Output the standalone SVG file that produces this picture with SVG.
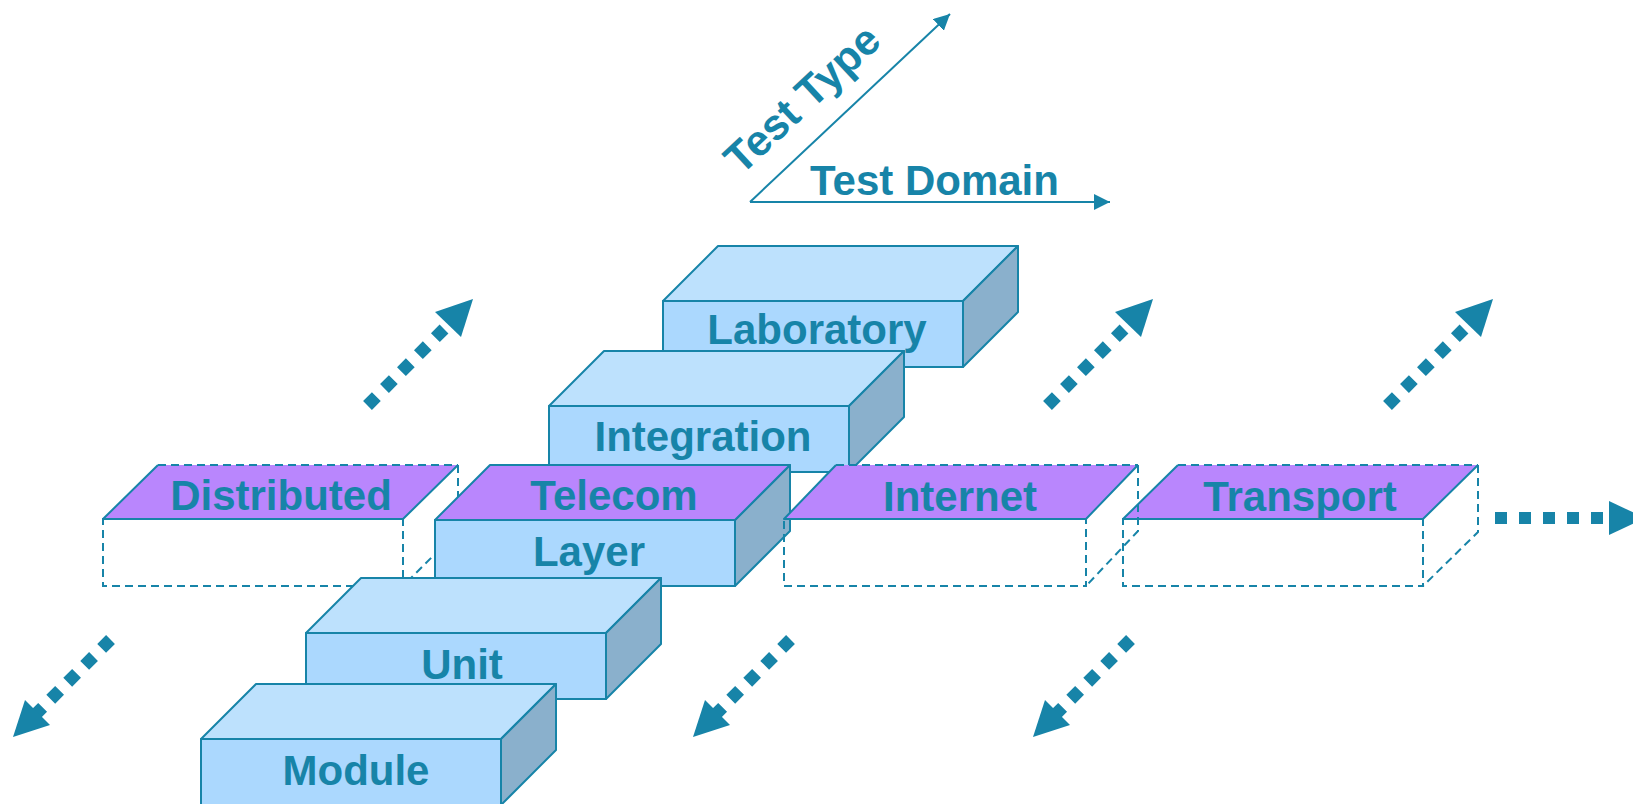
<svg xmlns="http://www.w3.org/2000/svg" width="1633" height="804" viewBox="0 0 1633 804">
<defs>
<style>
.lbl{font-family:"Liberation Sans",Arial,sans-serif;font-weight:bold;font-size:42px;fill:#1784A8;text-anchor:middle}
.front{fill:#ABD8FE;stroke:#1784A8;stroke-width:2;stroke-linejoin:round}
.top{fill:#BDE1FD;stroke:#1784A8;stroke-width:2;stroke-linejoin:round}
.side{fill:#8AB0CC;stroke:#1784A8;stroke-width:2;stroke-linejoin:round}
.purple{fill:#B986FD;stroke:none}
.solid{fill:none;stroke:#1784A8;stroke-width:2;stroke-linejoin:round}
.dash{fill:none;stroke:#1784A8;stroke-width:2;stroke-dasharray:8 5}
.axis{fill:none;stroke:#1784A8;stroke-width:2}
.dots{fill:none;stroke:#1784A8;stroke-width:12.5;stroke-dasharray:12.5 11.5}
.head{fill:#1784A8;stroke:none}
</style>
<marker id="ah" markerUnits="userSpaceOnUse" markerWidth="18" markerHeight="16" refX="16" refY="8" orient="auto">
<path d="M0,0 L16,8 L0,16 z" fill="#1784A8"/>
</marker>
</defs>
<rect width="1633" height="804" fill="#fff"/>

<g id="axes">
<line class="axis" x1="750" y1="202" x2="950" y2="14" marker-end="url(#ah)"/>
<line class="axis" x1="750" y1="202" x2="1110" y2="202" marker-end="url(#ah)"/>
<text class="lbl" x="741" y="176" style="text-anchor:start;font-size:43px" transform="rotate(-43 741 176)">Test Type</text>
<text class="lbl" x="810" y="195" style="text-anchor:start">Test Domain</text>
</g>

<g id="distributed">
<rect class="dash" x="103" y="519" width="300" height="67"/>
<path class="dash" d="M458,465 V531 L403,586"/>
<polygon class="purple" points="103,519 158,465 458,465 403,519"/>
<path class="solid" d="M158,465 L103,519 H403 L458,465"/>
<path class="dash" d="M158,465 H458"/>
<text class="lbl" x="281" y="510">Distributed</text>
</g>

<g id="transport">
<rect class="dash" x="1123" y="519" width="300" height="67"/>
<path class="dash" d="M1478,465 V532 L1423,586"/>
<polygon class="purple" points="1123,519 1178,465 1478,465 1423,519"/>
<path class="solid" d="M1178,465 L1123,519 H1423 L1478,465"/>
<path class="dash" d="M1178,465 H1478"/>
<text class="lbl" x="1300" y="511">Transport</text>
</g>

<g id="laboratory">
<polygon class="top" points="663,301 718,246 1018,246 963,301"/>
<polygon class="side" points="963,301 1018,246 1018,312 963,367"/>
<rect class="front" x="663" y="301" width="300" height="66"/>
<text class="lbl" x="817" y="344">Laboratory</text>
</g>

<g id="integration">
<polygon class="top" points="549,406 604,351 904,351 849,406"/>
<polygon class="side" points="849,406 904,351 904,417 849,472"/>
<rect class="front" x="549" y="406" width="300" height="66"/>
<text class="lbl" x="703" y="451">Integration</text>
</g>

<g id="telecom-layer">
<polygon class="side" points="735,520 790,465 790,531 735,586"/>
<rect class="front" x="435" y="520" width="300" height="66"/>
<polygon class="purple" points="435,520 490,465 790,465 735,520"/>
<polygon class="solid" points="435,520 490,465 790,465 735,520"/>
<text class="lbl" x="614" y="510">Telecom</text>
<text class="lbl" x="589" y="566">Layer</text>
</g>

<g id="internet">
<rect class="dash" x="784" y="519" width="302" height="67"/>
<path class="dash" d="M1138,465 V531 L1086,586"/>
<polygon class="purple" points="784,519 836,465 1138,465 1086,519"/>
<path class="solid" d="M836,465 L784,519 H1086 L1138,465"/>
<path class="dash" d="M836,465 H1138"/>
<text class="lbl" x="960" y="511">Internet</text>
</g>

<g id="unit">
<polygon class="top" points="306,633 361,578 661,578 606,633"/>
<polygon class="side" points="606,633 661,578 661,644 606,699"/>
<rect class="front" x="306" y="633" width="300" height="66"/>
<text class="lbl" x="462" y="679">Unit</text>
</g>

<g id="module">
<polygon class="top" points="201,739 256,684 556,684 501,739"/>
<polygon class="side" points="501,739 556,684 556,750 501,805"/>
<rect class="front" x="201" y="739" width="300" height="66"/>
<text class="lbl" x="356" y="785">Module</text>
</g>

<g id="connectors">
<g id="up-arrow-1">
<path class="dots" d="M367.5,405.5 L444,329"/>
<polygon class="head" points="435,312 473,299 461,337"/>
</g>
<g id="up-arrow-2" transform="translate(680,0)">
<path class="dots" d="M367.5,405.5 L444,329"/>
<polygon class="head" points="435,312 473,299 461,337"/>
</g>
<g id="up-arrow-3" transform="translate(1020,0)">
<path class="dots" d="M367.5,405.5 L444,329"/>
<polygon class="head" points="435,312 473,299 461,337"/>
</g>
<g id="down-arrow-1">
<path class="dots" d="M110.5,639.5 L35,715"/>
<polygon class="head" points="25,700 13,737 50,725"/>
</g>
<g id="down-arrow-2" transform="translate(680,0)">
<path class="dots" d="M110.5,639.5 L35,715"/>
<polygon class="head" points="25,700 13,737 50,725"/>
</g>
<g id="down-arrow-3" transform="translate(1020,0)">
<path class="dots" d="M110.5,639.5 L35,715"/>
<polygon class="head" points="25,700 13,737 50,725"/>
</g>
<g id="right-arrow">
<path d="M1495,518 H1605" fill="none" stroke="#1784A8" stroke-width="12" stroke-dasharray="12 12"/>
<polygon class="head" points="1609,501 1645,518 1609,535"/>
</g>
</g>
</svg>
